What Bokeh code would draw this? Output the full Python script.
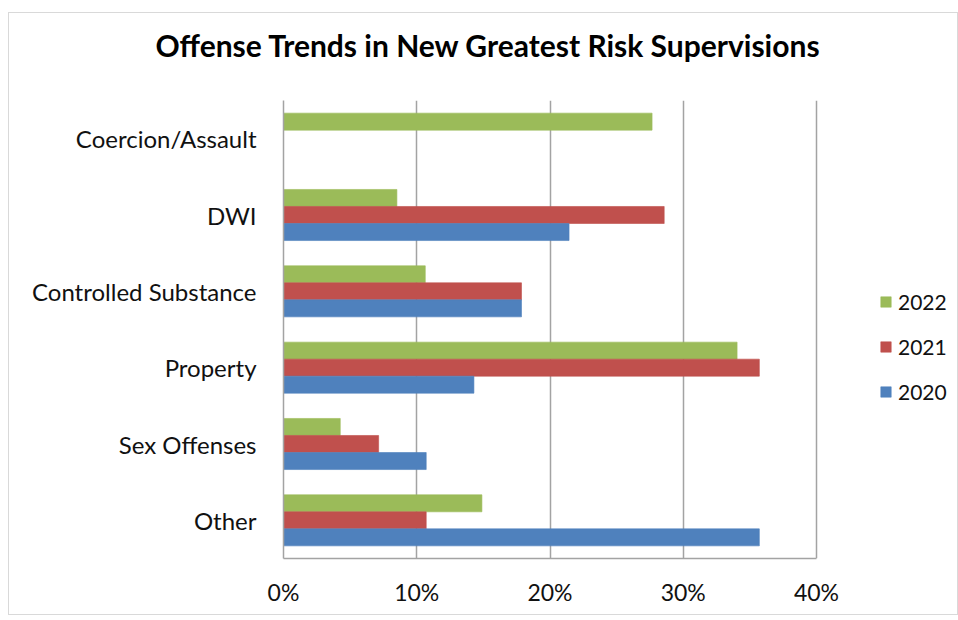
from bokeh.plotting import figure
from bokeh.models import ColumnDataSource, FactorRange, NumeralTickFormatter, Legend, LegendItem, FixedTicker, Title
from bokeh.transform import dodge
from bokeh.embed import file_html
from bokeh.resources import INLINE

categories = ["Coercion/Assault", "DWI", "Controlled Substance", "Property", "Sex Offenses", "Other"]
v2022 = [0.2766, 0.0851, 0.1064, 0.3404, 0.0426, 0.1489]
v2021 = [0.0, 0.2857, 0.1786, 0.3571, 0.0714, 0.1071]
v2020 = [0.0, 0.2143, 0.1786, 0.1429, 0.1071, 0.3571]
series_names = ["2022", "2021", "2020"]
colors = ["#9BBB59", "#C0504D", "#4F81BD"]
x_ticks = [0, 0.1, 0.2, 0.3, 0.4]
x_max = 0.4
title_text = "Offense Trends in  New Greatest Risk Supervisions"

FONT = "Lato"
LINE_GRAY = "#a3a3a3"

# layout geometry (pixels)
W, H = 950, 603
FRAME_LEFT, FRAME_TOP, FRAME_BOTTOM = 274, 87, 58
AXIS_PX = 533  # pixel length of 0..40%
frame_w = W - FRAME_LEFT
x_end = x_max * frame_w / AXIS_PX

src = ColumnDataSource(dict(cat=categories, v2022=v2022, v2021=v2021, v2020=v2020))

p = figure(width=W, height=H, output_backend="svg", toolbar_location=None,
           y_range=FactorRange(factors=list(reversed(categories)), range_padding=0),
           x_range=(0, x_end),
           min_border_left=FRAME_LEFT, min_border_right=0, min_border_top=FRAME_TOP,
           min_border_bottom=FRAME_BOTTOM)
p.styles = {"border": "1px solid #d9d9d9", "margin-left": "8px", "margin-top": "12px"}
p.title.text = ""

spacer = Title(text=" ", text_font_size="2px", standoff=34)
main_title = Title(text=title_text, text_font=FONT, text_font_size="30px", text_font_style="bold",
                   text_color="#000000", align="left", offset=-128, standoff=0)
p.add_layout(spacer, "above")
p.add_layout(main_title, "above")

bh = 0.223
renderers = []
for name, col, off in zip(series_names, colors, [bh, 0.0, -bh]):
    r = p.hbar(y=dodge("cat", off, range=p.y_range), right="v" + name, left=0, height=bh,
               source=src, fill_color=col, line_color=col, line_alpha=0.6)
    renderers.append(r)

p.xaxis.ticker = FixedTicker(ticks=x_ticks)
p.xaxis.formatter = NumeralTickFormatter(format="0%")
p.xaxis.bounds = (0, x_max)
for ax in (p.xaxis[0], p.yaxis[0]):
    ax.axis_line_color = LINE_GRAY
    ax.axis_line_width = 1.5
    ax.major_tick_line_color = None
    ax.minor_tick_line_color = None
    ax.major_label_text_font = FONT
    ax.major_label_text_color = "#111111"
p.xaxis.major_label_text_font_size = "23px"
p.yaxis.major_label_text_font_size = "24px"
p.xaxis.major_label_standoff = 13
p.yaxis.major_label_standoff = 21

p.ygrid.grid_line_color = None
p.xgrid.grid_line_color = LINE_GRAY
p.xgrid.grid_line_width = 1.5
p.xgrid.ticker = FixedTicker(ticks=x_ticks)
p.outline_line_color = None
p.background_fill_color = "white"
p.border_fill_color = "white"

legend = Legend(items=[LegendItem(label=n, renderers=[r]) for n, r in zip(series_names, renderers)],
                location=(596, 154), orientation="vertical",
                glyph_width=13, glyph_height=13, label_text_font=FONT, label_text_font_size="21px",
                label_text_color="#111111", label_height=21, spacing=20, padding=0, margin=0,
                border_line_color=None, background_fill_alpha=0, label_standoff=6)
p.add_layout(legend, "center")

open("out.html", "w").write(file_html(p, INLINE))
